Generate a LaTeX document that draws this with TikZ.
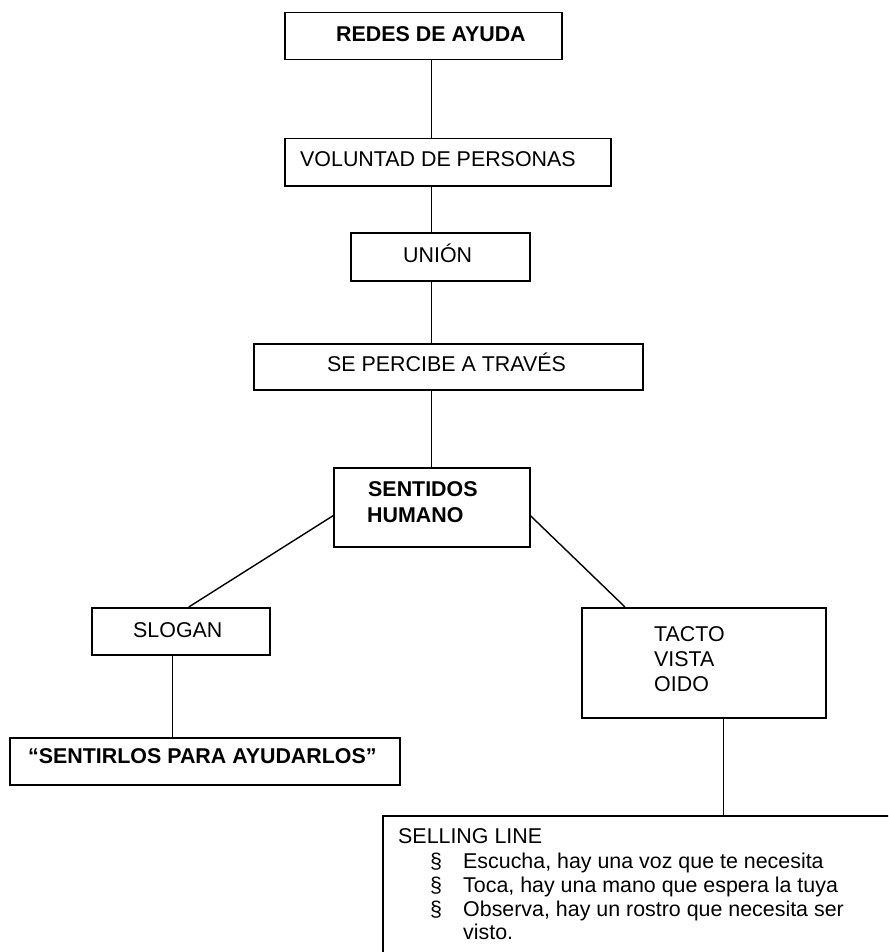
\documentclass[tikz,border=0pt]{standalone}
\usepackage{fontspec}
\setmainfont{Liberation Sans}
\begin{document}
\begin{tikzpicture}[x=1pt,y=-1pt,
  box/.style={draw=black, line width=1.5pt, anchor=north west, inner sep=0pt},
  txt/.style={anchor=base west, inner sep=0pt, font=\fontsize{21.4}{25}\selectfont},
  btxt/.style={txt, font=\fontsize{21.4}{25}\selectfont\bfseries},
  link/.style={draw=black, line width=1.4pt}]
\useasboundingbox (0,0) rectangle (888,952);
\clip (0,0) rectangle (888,952);
\fill[white] (0,0) rectangle (888,952);
% boxes
\node[box, minimum width=277pt, minimum height=47pt] (redes) at (284,12) {};
\node[box, minimum width=326pt, minimum height=47pt] (voluntad) at (284,138) {};
\node[box, minimum width=179pt, minimum height=48pt] (union) at (350,232) {};
\node[box, minimum width=389pt, minimum height=46pt] (percibe) at (253,343) {};
\node[box, minimum width=196pt, minimum height=79pt] (sentidos) at (333,467) {};
\node[box, minimum width=178pt, minimum height=47pt] (slogan) at (91,607) {};
\node[box, minimum width=390pt, minimum height=47pt] (sentirlos) at (9,737) {};
\node[box, minimum width=244pt, minimum height=110pt] (tacto) at (581,607) {};
\node[box, minimum width=600pt, minimum height=300pt] (selling) at (382,815) {};
% texts
\node[btxt] (t-redes) at (336,42) {REDES DE AYUDA};
\node[txt] (t-voluntad) at (300,167) {VOLUNTAD DE PERSONAS};
\node[txt] (t-union) at (403,262) {UNIÓN};
\node[txt] (t-percibe) at (327,371) {SE PERCIBE A TRAVÉS};
\node[btxt] (t-sent1) at (368,496) {SENTIDOS};
\node[btxt] (t-sent2) at (367,522) {HUMANO};
\node[txt] (t-slogan) at (133,637) {SLOGAN};
\node[btxt] (t-sentirlos) at (28,763) {“SENTIRLOS PARA AYUDARLOS”};
\node[txt] (t-tacto) at (654,641) {TACTO};
\node[txt] (t-vista) at (654,666) {VISTA};
\node[txt] (t-oido) at (654,691) {OIDO};
\node[txt] (t-selling) at (398,843) {SELLING LINE};
\node[txt] (b1) at (430,868) {§};
\node[txt] (b2) at (430,892) {§};
\node[txt] (b3) at (430,916) {§};
\node[txt] (l1) at (463,868) {Escucha, hay una voz que te necesita};
\node[txt] (l2) at (463,892) {Toca, hay una mano que espera la tuya};
\node[txt] (l3) at (463,916) {Observa, hay un rostro que necesita ser};
\node[txt] (l4) at (463,939) {visto.};
% connectors
\draw[link] (redes.south -| sentidos.north) -- (voluntad.north -| sentidos.north);
\draw[link] (voluntad.south -| sentidos.north) -- (union.north -| sentidos.north);
\draw[link] (union.south -| sentidos.north) -- (percibe.north -| sentidos.north);
\draw[link] (percibe.south -| sentidos.north) -- (sentidos.north);
\draw[link] ([yshift=-8.5pt]sentidos.west) -- ([xshift=8pt]slogan.north);
\draw[link] ([yshift=-8.5pt]sentidos.east) -- ([xshift=44pt]tacto.north west);
\draw[link] ([xshift=-8pt]slogan.south) -- ([xshift=-8pt]slogan.south |- sentirlos.north);
\draw[link] ([xshift=20pt]tacto.south) -- ([xshift=20pt]tacto.south |- selling.north);
\end{tikzpicture}
\end{document}
